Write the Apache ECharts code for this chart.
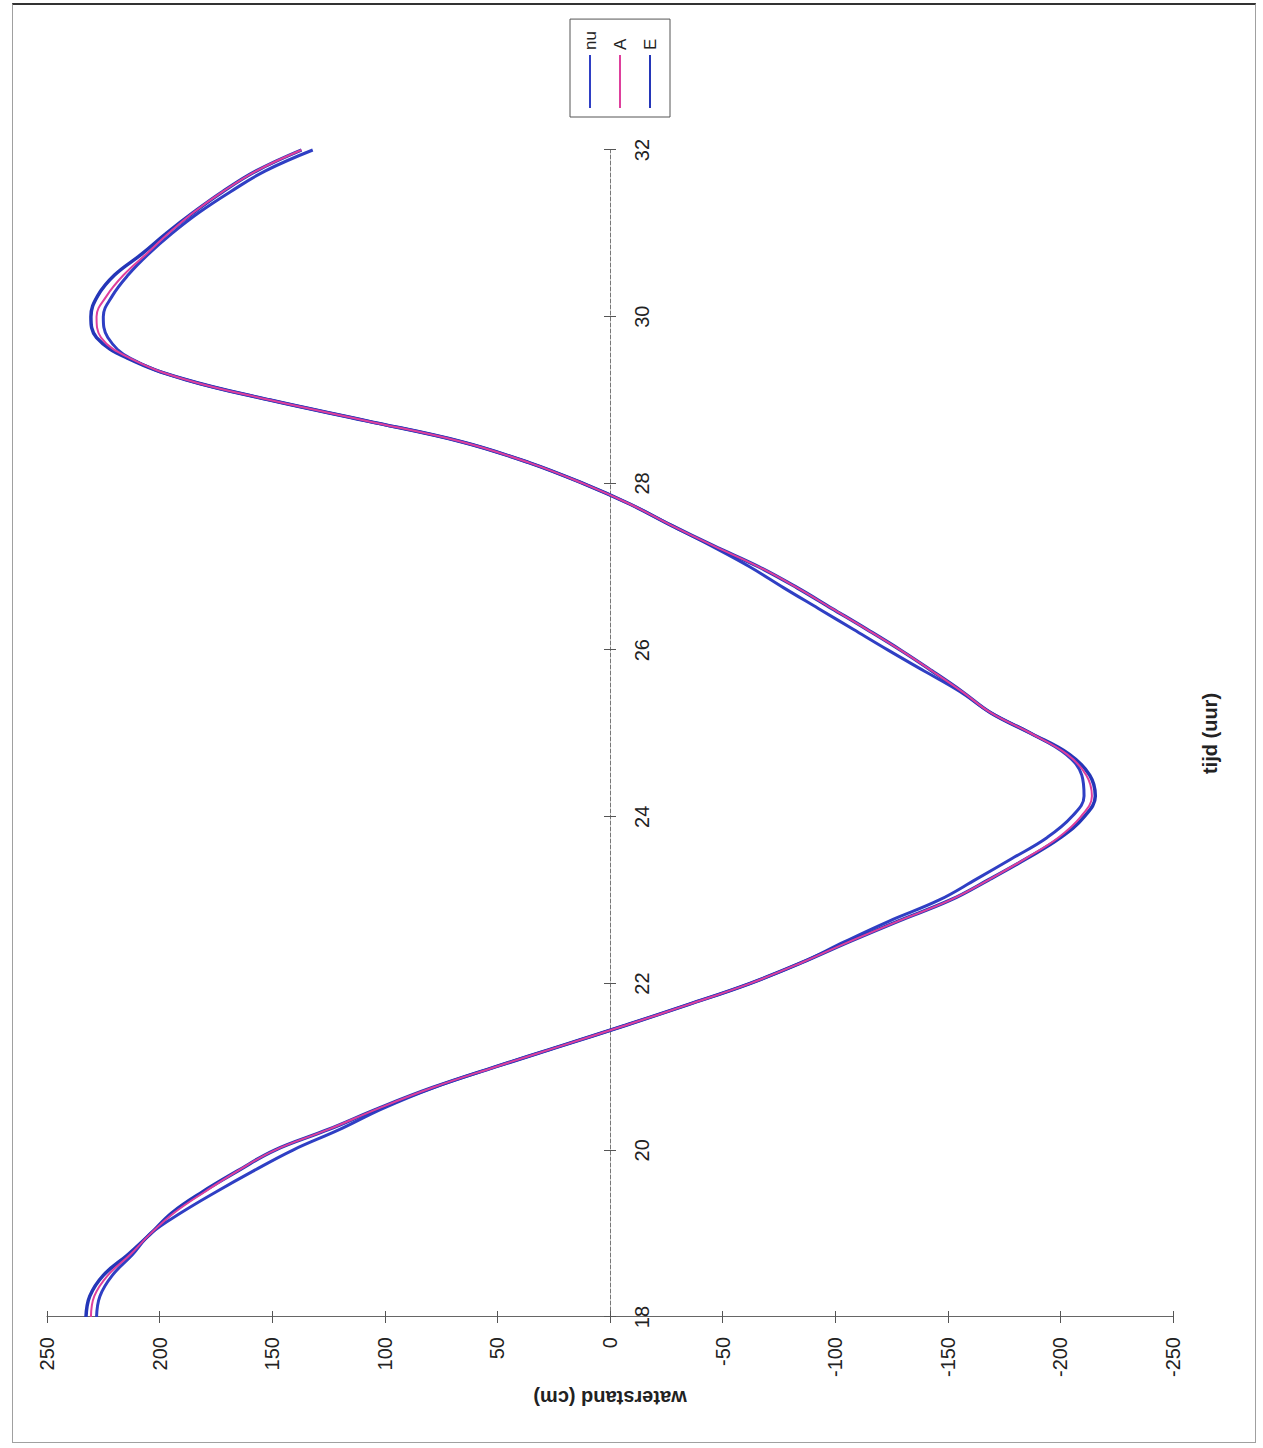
<!DOCTYPE html>
<html>
<head>
<meta charset="utf-8">
<script src="https://cdn.jsdelivr.net/npm/echarts@6/dist/echarts.min.js"></script>
<style>
html,body{margin:0;padding:0;background:#fff;overflow:hidden;width:1263px;height:1448px;}
#frame{position:absolute;left:12px;top:3px;width:1244px;height:1440px;border:1px solid #a0a0a0;border-top:2px solid #333;box-sizing:border-box;}
#chart{position:absolute;left:0;top:0;width:1448px;height:1263px;transform-origin:0 0;transform:translate(0,1448px) rotate(-90deg);}
</style>
</head>
<body>
<div id="frame"></div>
<div id="chart"></div>
<script>
// time (hours)
const times = [18, 18.25, 18.5, 18.75, 19, 19.25, 19.5, 19.75, 20, 20.25, 20.5, 20.75,
  21, 21.25, 21.5, 21.75, 22, 22.25, 22.5, 22.75, 23, 23.25, 23.5, 23.75,
  24, 24.25, 24.5, 24.75, 25, 25.25, 25.5, 25.75, 26, 26.25, 26.5, 26.75,
  27, 27.25, 27.5, 27.75, 28, 28.25, 28.5, 28.75, 29, 29.25, 29.5, 29.75,
  30, 30.25, 30.5, 30.75, 31, 31.25, 31.5, 31.75, 32];

// waterstand (cm) per series
const nu = [228, 226.5, 221, 212, 204, 190.5, 175, 158.5, 141, 120, 101, 78.5,
  51, 22, -7, -35, -62, -85, -104, -124, -146, -162.5, -178.5, -194,
  -205, -210.5, -209.5, -202.5, -187, -169, -155.5, -139.5, -123.5, -108, -92.5, -77,
  -62, -45, -27, -9, 12, 36, 66, 108, 151, 189, 213, 223,
  225, 221, 214, 205, 194.5, 182.5, 168.5, 153, 132];

const A = [230.5, 229, 223, 213, 204, 193.5, 180, 165.5, 149, 125, 103, 79,
  51, 22, -7, -35, -62, -85, -106, -128, -151, -168.5, -184.5, -199,
  -209, -214, -211.5, -203, -187, -169, -156.5, -143, -129, -114, -98.5, -83,
  -66, -46, -27, -9, 12, 36, 66, 108, 151, 189, 213, 226,
  228, 223.5, 216, 206, 196, 185, 172, 157, 137];

const E = [232.7, 231, 225, 214, 204, 194.5, 181, 165.5, 149, 125, 103, 79,
  51, 22, -7, -35, -62, -85, -106, -128, -151, -168.5, -185, -200,
  -210.5, -215.5, -213, -204, -187, -169, -156.5, -143, -129, -114, -98.5, -83,
  -66, -46, -27, -9, 12, 36, 66, 108, 151, 189, 214, 228,
  230.5, 227.5, 220, 208, 197, 185, 172, 157, 137];

const seriesNames = ['nu', 'A', 'E'];
const timeRange = [18, 32, 2];
const levelRange = [-250, 250, 50];

const FONT = "'Liberation Sans', Arial, sans-serif";
const chart = echarts.init(document.getElementById('chart'), null, {renderer: 'svg', width: 1448, height: 1263});

function pairs(vals) { return times.map((t, i) => [t, vals[i]]); }

const tickStyle = {color: '#555', width: 1};
// the time axis crosses the level axis at 0: shift it up from the grid bottom
const gridTop = 47, gridBottom = 90, chartH = 1263;
const plotH = chartH - gridTop - gridBottom;
const zeroShift = -plotH * (0 - levelRange[0]) / (levelRange[1] - levelRange[0]);

chart.setOption({
  animation: false,
  backgroundColor: 'transparent',
  textStyle: {fontFamily: FONT},
  grid: {left: 131, right: 150, top: gridTop, bottom: gridBottom, containLabel: false, outerBoundsMode: 'none'},
  legend: {
    data: seriesNames,
    orient: 'vertical',
    left: 1331, top: 570,
    padding: [10, 12, 10, 9],
    itemGap: 10,
    itemWidth: 53,
    itemHeight: 2,
    icon: 'rect',
    borderColor: '#555',
    borderWidth: 1,
    textStyle: {fontFamily: FONT, fontSize: 17, color: '#222', lineHeight: 20, height: 20}
  },
  xAxis: [
    {
      type: 'value', min: timeRange[0], max: timeRange[1], interval: timeRange[2], position: 'bottom',
      offset: zeroShift,
      axisLine: {show: true, onZero: false, lineStyle: {color: '#777', width: 1, type: [4, 2]}},
      axisTick: {show: true, inside: false, length: 6, lineStyle: tickStyle},
      axisLabel: {margin: 22, fontSize: 20, color: '#222', fontFamily: FONT},
      splitLine: {show: false},
      name: 'tijd (uur)', nameLocation: 'middle', nameGap: 590, nameMoveOverlap: false,
      nameTextStyle: {fontSize: 20, fontWeight: 'bold', color: '#222', fontFamily: FONT}
    },
    {
      type: 'value', min: timeRange[0], max: timeRange[1], interval: timeRange[2], position: 'bottom',
      offset: zeroShift,
      axisLine: {show: false, onZero: false},
      axisTick: {show: true, inside: true, length: 6, lineStyle: tickStyle},
      axisLabel: {show: false},
      splitLine: {show: false}
    }
  ],
  yAxis: [
    {
      type: 'value', min: levelRange[0], max: levelRange[1], interval: levelRange[2], position: 'left',
      axisLine: {show: true, onZero: false, lineStyle: {color: '#666', width: 1}},
      axisTick: {show: true, inside: false, length: 6, lineStyle: tickStyle},
      axisLabel: {margin: 20, fontSize: 20, color: '#222', fontFamily: FONT},
      splitLine: {show: false},
      name: 'waterstand (cm)', nameLocation: 'middle', nameGap: 68,
      nameTextStyle: {fontSize: 20, fontWeight: 'bold', color: '#222', fontFamily: FONT}
    },
    {
      type: 'value', min: levelRange[0], max: levelRange[1], interval: levelRange[2], position: 'left',
      axisLine: {show: false, onZero: false},
      axisTick: {show: true, inside: true, length: 6, lineStyle: tickStyle},
      axisLabel: {show: false},
      splitLine: {show: false}
    }
  ],
  series: [
    {name: 'nu', type: 'line', data: pairs(nu), smooth: 0.4, symbol: 'none', color: '#2f3fc4',
      lineStyle: {width: 3, color: '#2f3fc4'}, z: 2},
    {name: 'E', type: 'line', data: pairs(E), smooth: 0.4, symbol: 'none', color: '#2436b8',
      lineStyle: {width: 3.5, color: '#2436b8'}, z: 3},
    {name: 'A', type: 'line', data: pairs(A), smooth: 0.4, symbol: 'none', color: '#de3f9c',
      lineStyle: {width: 2, color: '#de3f9c'}, z: 4}
  ]
});
</script>
</body>
</html>
